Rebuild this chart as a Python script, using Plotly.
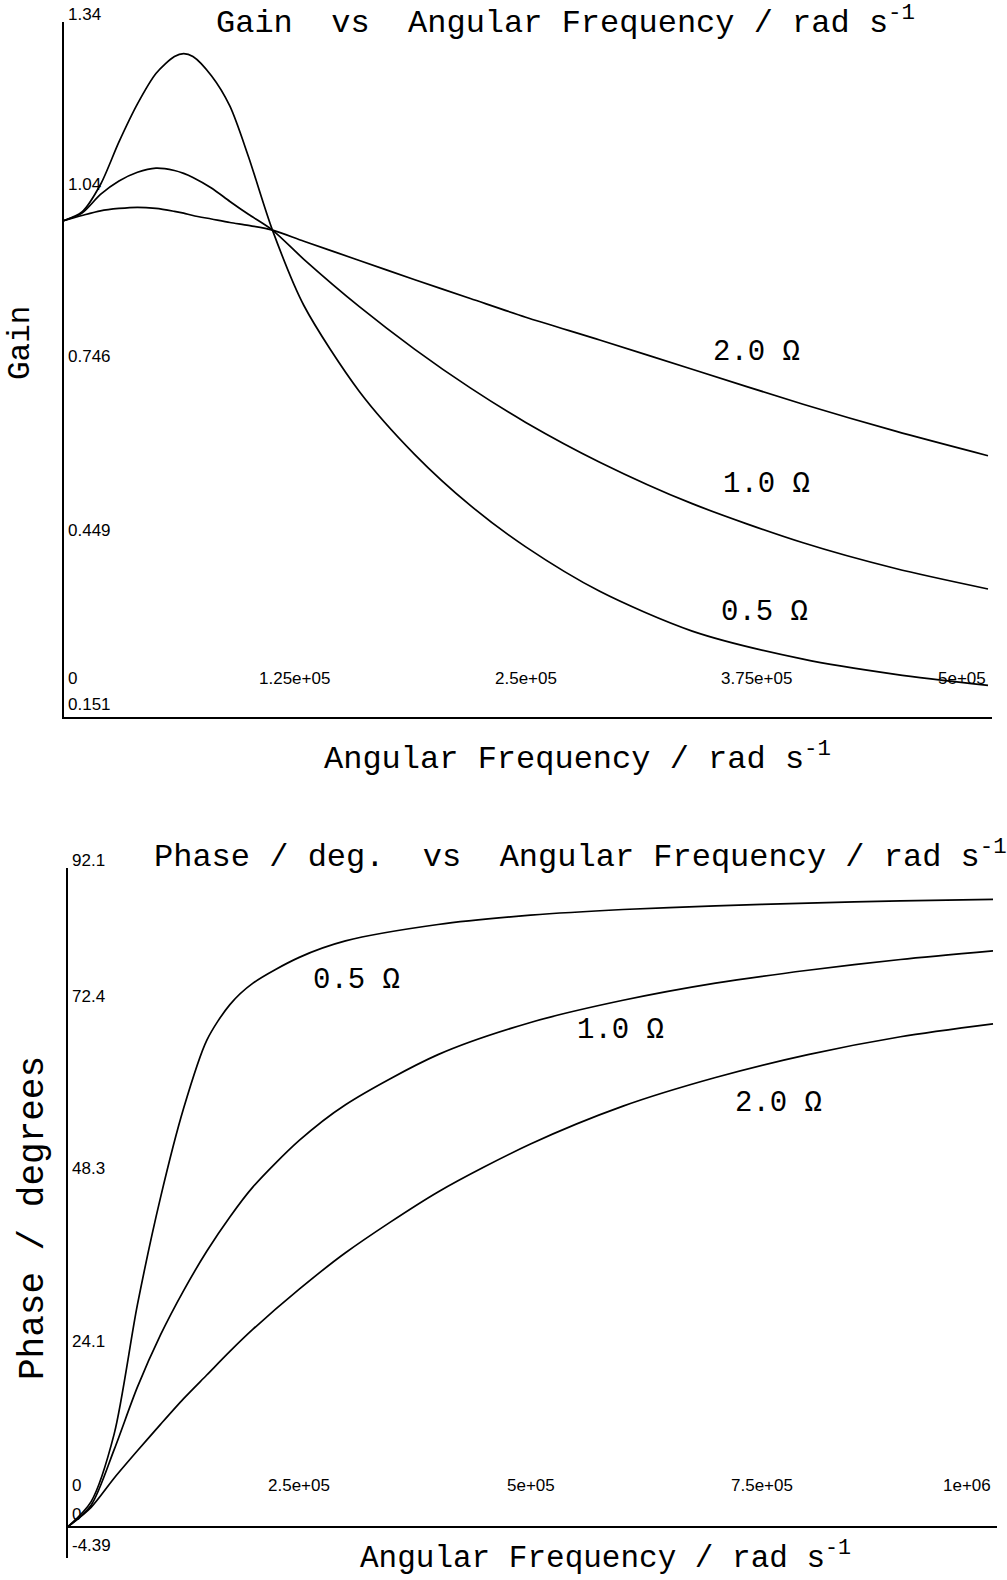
import plotly.graph_objects as go

# ---------------- data ----------------
resistances = ["0.5 Ω", "1.0 Ω", "2.0 Ω"]

omega_gain = [0, 10e3, 20e3, 30e3, 40e3, 50e3, 60e3, 65e3, 70e3, 80e3, 90e3, 100e3, 113e3,
              130e3, 160e3, 190e3, 220e3, 250e3, 290e3, 340e3, 400e3, 450e3, 500e3]
gain_05 = [1.000, 1.015, 1.062, 1.135, 1.200, 1.252, 1.281, 1.286, 1.281, 1.248, 1.196, 1.110, 0.984,
           0.855, 0.708, 0.600, 0.513, 0.442, 0.366, 0.298, 0.250, 0.224, 0.205]
gain_10 = [1.000, 1.013, 1.045, 1.068, 1.083, 1.090, 1.086, 1.081, 1.074, 1.056, 1.033, 1.011, 0.984,
           0.934, 0.853, 0.780, 0.714, 0.655, 0.587, 0.516, 0.449, 0.405, 0.370]
gain_20 = [1.000, 1.009, 1.017, 1.021, 1.023, 1.021, 1.016, 1.013, 1.009, 1.003, 0.997, 0.992, 0.984,
           0.965, 0.932, 0.899, 0.867, 0.835, 0.796, 0.746, 0.686, 0.640, 0.598]

omega_phase = [0, 25e3, 50e3, 75e3, 100e3, 125e3, 150e3, 175e3, 200e3, 250e3, 300e3,
               400e3, 500e3, 600e3, 700e3, 800e3, 900e3, 1000e3]
phase_05 = [0, 3.5, 13, 31, 46, 58.5, 68.0, 73.0, 76.0, 79.6, 81.9,
            84.2, 85.5, 86.3, 86.8, 87.2, 87.5, 87.7]
phase_10 = [0, 3, 10.8, 19.5, 26.8, 33, 38.5, 43.3, 47.5, 54, 59,
            66, 70.5, 73.6, 76, 77.8, 79.3, 80.5]
phase_20 = [0, 2.7, 6.8, 10.6, 14.3, 17.9, 21.2, 24.5, 27.6, 33.2, 38.3,
            46.8, 53.5, 58.8, 62.8, 66.0, 68.5, 70.3]

gain_tickvals = [0.151, 0.449, 0.746, 1.04, 1.34]
gain_ticktext = ["0.151", "0.449", "0.746", "1.04", "1.34"]
gain_xtickvals = [0, 1.25e5, 2.5e5, 3.75e5, 5e5]
gain_xticktext = ["0", "1.25e+05", "2.5e+05", "3.75e+05", "5e+05"]

phase_tickvals = [-4.39, 0, 24.1, 48.3, 72.4, 92.1]
phase_ticktext = ["-4.39", "0", "24.1", "48.3", "72.4", "92.1"]
phase_xtickvals = [0, 2.5e5, 5e5, 7.5e5, 1e6]
phase_xticktext = ["0", "2.5e+05", "5e+05", "7.5e+05", "1e+06"]

# ---------------- figure ----------------
MONO = "Liberation Mono, Courier New, monospace"
SANS = "Liberation Sans, Arial, sans-serif"
W, H = 1007, 1580

fig = go.Figure()
line = dict(color="black", width=1.7, shape="spline", smoothing=0.8)
for g, name in zip([gain_05, gain_10, gain_20], resistances):
    fig.add_trace(go.Scatter(x=omega_gain, y=g, mode="lines", line=line,
                             name=name, xaxis="x", yaxis="y", showlegend=False))
for p, name in zip([phase_05, phase_10, phase_20], resistances):
    fig.add_trace(go.Scatter(x=omega_phase, y=p, mode="lines", line=line,
                             name=name, xaxis="x2", yaxis="y2", showlegend=False))


def px(xp):
    return xp / W


def py(yp):
    return 1 - yp / H


axis_common = dict(showline=True, linecolor="black", linewidth=2.4, showgrid=False,
                   zeroline=False, ticks="", showticklabels=False)

fig.update_layout(
    width=W, height=H, margin=dict(l=0, r=0, t=0, b=0),
    paper_bgcolor="white", plot_bgcolor="white",
    xaxis=dict(domain=[px(63.5), px(992)], range=[0, 5e5 * (992 - 63.5) / (988 - 63.5)],
               anchor="y", **axis_common),
    yaxis=dict(domain=[py(717), py(22)], range=[0.151, 1.34], anchor="x", **axis_common),
    xaxis2=dict(domain=[px(68), px(997)], range=[0, 1e6 * (997 - 68) / (993 - 68)],
                anchor="free", position=py(1526.6), **axis_common),
    yaxis2=dict(domain=[py(1558), py(868)], range=[-4.39, 92.1], anchor="x2", **axis_common),
)

# tick labels (drawn inside the axes, as in the original plot)
tickfont = dict(family=SANS, size=17, color="black")


def x_ticklabels(vals, texts, xref, yref, ybase, yshift):
    n = len(vals)
    for i, (v, t) in enumerate(zip(vals, texts)):
        anchor = "left" if i == 0 else ("right" if i == n - 1 else "center")
        fig.add_annotation(x=v, y=ybase, xref=xref, yref=yref, text=t, showarrow=False,
                           xanchor=anchor, yanchor="middle", yshift=yshift,
                           xshift=2 if i == 0 else 0, font=tickfont)


def y_ticklabels(vals, texts, xref, yref):
    n = len(vals)
    for i, (v, t) in enumerate(zip(vals, texts)):
        fig.add_annotation(x=0, y=v, xref=xref, yref=yref, text=t, showarrow=False,
                           xanchor="left", yanchor="bottom", xshift=2,
                           yshift=-4 if i == n - 1 else 1, font=tickfont)


x_ticklabels(gain_xtickvals, gain_xticktext, "x", "y", 0.151, 39)
y_ticklabels(gain_tickvals, gain_ticktext, "x", "y")
x_ticklabels(phase_xtickvals, phase_xticktext, "x2", "y2", 0, 41)
y_ticklabels(phase_tickvals, phase_ticktext, "x2", "y2")

# titles
sup = "<sup>-1</sup>"
nb = "\u00a0"
annots = [
    (f"Gain{nb*2}vs{nb*2}Angular Frequency / rad s{sup}", 565, 21, 0, 32),
    (f"Angular Frequency / rad s{sup}", 577, 757, 0, 32),
    ("Gain", 20, 343, -90, 31),
    (f"Phase / deg.{nb*2}vs{nb*2}Angular Frequency / rad s{sup}", 580, 855, 0, 32),
    (f"Angular Frequency / rad s{sup}", 605, 1556, 0, 31),
    ("Phase / degrees", 33, 1218, -90, 36),
]
for text, xp, yp, ang, size in annots:
    fig.add_annotation(xref="paper", yref="paper", x=px(xp), y=py(yp), text=text,
                       showarrow=False, textangle=ang,
                       font=dict(family=MONO, size=size, color="black"),
                       xanchor="center", yanchor="middle")

# curve labels
lab = dict(family=MONO, size=29, color="black")
gain_labels = [(379e3, 0.329), (380e3, 0.548), (375e3, 0.774)]
phase_labels = [(312e3, 76.4), (597e3, 69.4), (768e3, 59.1)]
for (xv, yv), name in zip(gain_labels, resistances):
    fig.add_annotation(x=xv, y=yv, xref="x", yref="y", text=name.replace(" ", nb),
                       showarrow=False, font=lab)
for (xv, yv), name in zip(phase_labels, resistances):
    fig.add_annotation(x=xv, y=yv, xref="x2", yref="y2", text=name.replace(" ", nb),
                       showarrow=False, font=lab)

fig.write_html("out.html")
